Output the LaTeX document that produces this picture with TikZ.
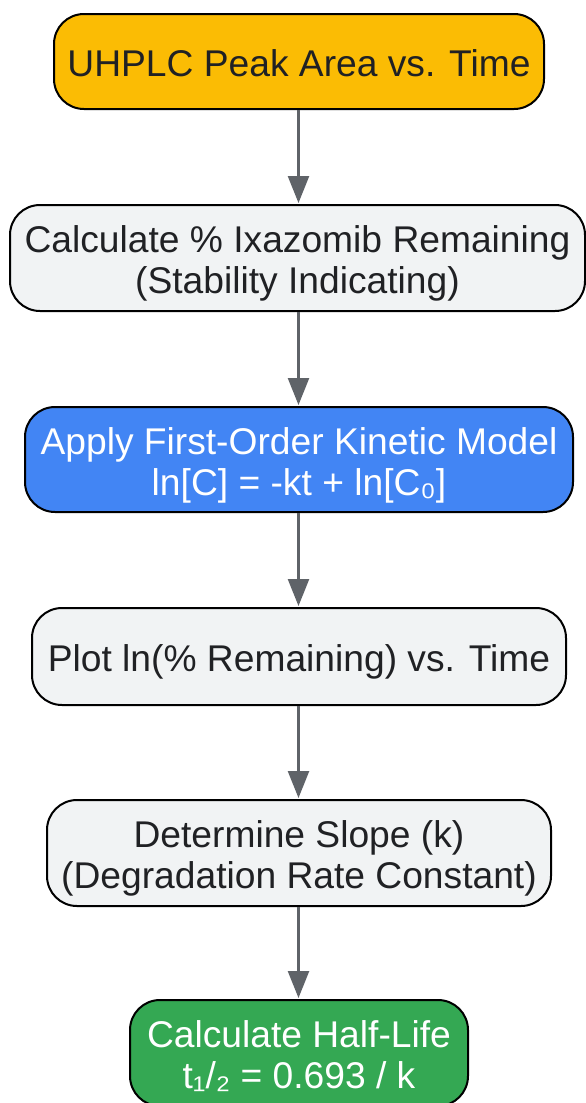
\documentclass[tikz,border=0pt]{standalone}
\usepackage{fontspec}
\setmainfont{Liberation Sans}
\usetikzlibrary{arrows.meta}
\definecolor{cyellow}{HTML}{FBBC04}
\definecolor{cblue}{HTML}{4285F4}
\definecolor{cgreen}{HTML}{34A853}
\definecolor{cgray}{HTML}{F1F3F4}
\definecolor{carrow}{HTML}{5F6368}
\definecolor{ctext}{HTML}{202124}
\newcommand\topstrut{\rule{0pt}{39.6pt}}
\newcommand\botstrut{\rule[-9pt]{0pt}{9pt}}
\tikzset{
  flowbox/.style={draw=black, line width=2pt, rounded corners=30pt, align=center,
    inner sep=0pt, font=\fontsize{37.2}{41}\selectfont},
  graybox/.style={flowbox, fill=cgray, text=ctext},
  flowarrow/.style={draw=carrow, line width=2.5pt, -{Triangle[length=27pt,width=21pt]}, shorten >=1pt},
}
\begin{document}
\begin{tikzpicture}[x=1pt,y=1pt]
\useasboundingbox (0,0) rectangle (586,-1103);
\node[flowbox, fill=cyellow, text=ctext, minimum width=490pt, minimum height=95pt] (n1) at (299,-61.5) {\topstrut UHPLC Peak Area vs. Time\botstrut};
\node[graybox, minimum width=575pt, minimum height=106pt] (n2) at (297.5,-258) {\topstrut Calculate \% Ixazomib Remaining\\(Stability Indicating)\botstrut};
\node[flowbox, fill=cblue, text=white, minimum width=548pt, minimum height=105pt] (n3) at (299,-459.5) {\topstrut Apply First-Order Kinetic Model\\ln[C] = -kt + ln[C₀]\botstrut};
\node[graybox, minimum width=534pt, minimum height=97pt] (n4) at (299,-656.5) {\topstrut Plot ln(\% Remaining) vs. Time\botstrut};
\node[graybox, minimum width=504pt, minimum height=106pt] (n5) at (299,-853) {\topstrut Determine Slope (k)\\(Degradation Rate Constant)\botstrut};
\node[flowbox, fill=cgreen, text=white, minimum width=338pt, minimum height=106pt] (n6) at (299,-1053) {\topstrut Calculate Half-Life\\t₁/₂ = 0.693 / k\botstrut};
\draw[flowarrow] (n1.south -| 298.5,0) -- (n2.north -| 298.5,0);
\draw[flowarrow] (n2.south -| 298.5,0) -- (n3.north -| 298.5,0);
\draw[flowarrow] (n3.south -| 298.5,0) -- (n4.north -| 298.5,0);
\draw[flowarrow] (n4.south -| 298.5,0) -- (n5.north -| 298.5,0);
\draw[flowarrow] (n5.south -| 298.5,0) -- (n6.north -| 298.5,0);
\end{tikzpicture}
\end{document}
